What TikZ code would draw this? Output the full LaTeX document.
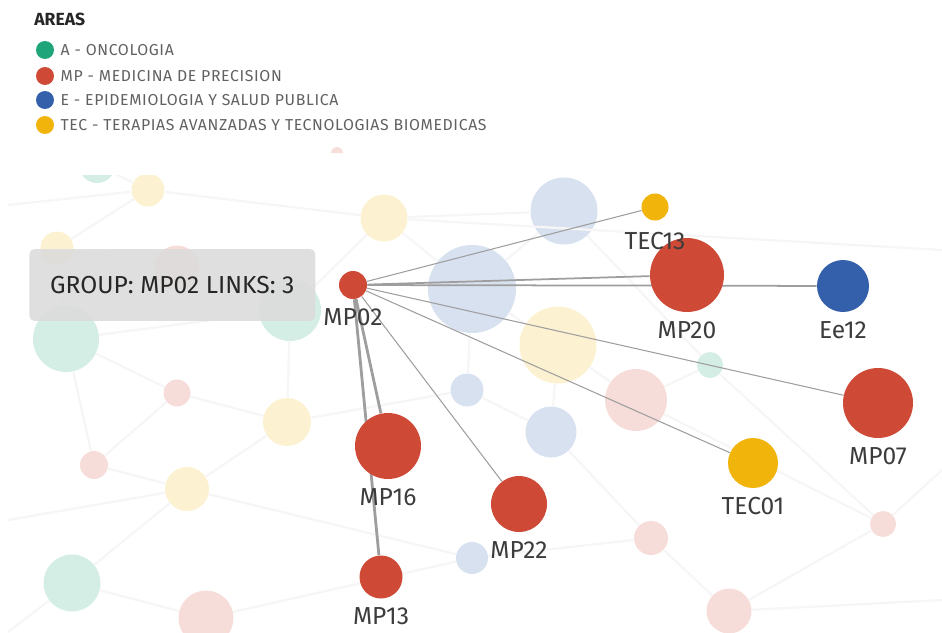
\documentclass[tikz,border=0pt]{standalone}
\usepackage{fontspec}
\setmainfont{Fira Sans}
\usetikzlibrary{positioning}

\definecolor{areaA}{HTML}{1EA67A}
\definecolor{areaMP}{HTML}{CF4A36}
\definecolor{areaE}{HTML}{345FAA}
\definecolor{areaTEC}{HTML}{F0B40A}
\definecolor{txt}{HTML}{3C3C3C}

\pgfdeclarelayer{faded}
\pgfdeclarelayer{links}
\pgfsetlayers{faded,links,main}

\tikzset{
  grp/.style={circle, inner sep=0pt, minimum size=#1*0.02cm},
  fadedot/.style={circle, inner sep=0pt, minimum size=#1*0.02cm},
  lbl/.style={font=\fontsize{14}{16}\selectfont, text=txt, inner sep=0.5pt,
    label distance=0.15cm},
  link/.style={draw=black!38, line width=0.6pt},
  faint/.style={draw=black!3.5, line width=1.3pt},
  legdot/.style={circle, inner sep=0pt, minimum size=0.36cm},
  legtxt/.style={font=\fontsize{9}{11}\selectfont\addfontfeature{LetterSpace=4},
    text=black!62, inner sep=0pt},
  tip/.style={fill=black!14, fill opacity=0.88, text opacity=1, rounded corners=3pt,
    minimum width=5.72cm, minimum height=1.44cm, text=black!85,
    font=\fontsize{14}{16}\selectfont}
}

\begin{document}
\begin{tikzpicture}[x=0.02cm, y=-0.02cm]
\useasboundingbox (0,0) rectangle (942,632);

% legend
\node[font=\bfseries\fontsize{10}{12}\selectfont, text=black!85, anchor=west, inner sep=0pt]
  (areas) at (34,19) {AREAS};
\foreach \n/\c/\y/\t in {A/areaA/50/A - ONCOLOGIA,
    MP/areaMP/76/MP - MEDICINA DE PRECISION,
    E/areaE/100/E - EPIDEMIOLOGIA Y SALUD PUBLICA,
    TEC/areaTEC/125/TEC - TERAPIAS AVANZADAS Y TECNOLOGIAS BIOMEDICAS} {
  \node[legdot, fill=\c] (leg\n) at (45,\y) {};
  \node[legtxt, right=0.12cm of leg\n] (legtxt\n) {\t};
}

% faded network behind the selection
\begin{pgfonlayer}{faded}
  \fill[areaMP!18] (331,153) arc[start angle=180, end angle=0, radius=0.12cm];
  \begin{scope}
    \clip (8,175) rectangle (942,632);
    \foreach \i/\x/\y/\d/\c in {1/97/165/36/areaA, 2/148/190/33/areaTEC,
        3/57/248/33/areaTEC, 4/177/268/45/areaMP, 5/290/310/62/areaA,
        6/66/339/66/areaA, 7/384/218/47/areaTEC, 8/564/211/67/areaE,
        9/472/289/88/areaE, 10/558/345/77/areaTEC, 11/467/390/33/areaE,
        12/551/432/51/areaE, 13/636/400/62/areaMP, 14/710/365/26/areaA,
        15/177/393/27/areaMP, 16/287/422/48/areaTEC, 17/94/465/28/areaMP,
        18/187/489/44/areaTEC, 19/72/583/57/areaA, 20/206/618/55/areaMP,
        21/651/538/34/areaMP, 22/729/611/45/areaMP, 23/883/524/26/areaMP,
        24/472/558/32/areaE} {
      \node[fadedot=\d, fill=\c!19] (f\i) at (\x,\y) {};
    }
    % faint links
    \foreach \a/\b in {1/2, 2/7, 3/4, 4/5, 3/6, 6/5, 5/7, 7/9, 8/9, 9/10,
        10/13, 13/14, 11/12, 12/21, 15/16, 16/18, 17/18, 18/19, 19/20,
        20/24, 24/21, 21/22, 13/23, 16/11, 6/15, 2/3, 15/17, 16/5, 10/12,
        11/9, 14/23, 8/14, 22/23, 18/24, 6/17, 7/8} {
      \draw[faint] (f\a) -- (f\b);
    }
    \draw[faint] (8,205) -- (f2);
    \draw[faint] (f7) -- (942,250);
    \draw[faint] (8,520) -- (f18);
    \draw[faint] (f23) -- (942,470);
    \draw[faint] (f19) -- (8,632);
    \draw[faint] (f22) -- (942,600);
  \end{scope}
\end{pgfonlayer}

% selected group
\node[grp=28, fill=areaMP, label={[lbl]below:MP02}] (MP02) at (353,285) {};
\node[grp=74, fill=areaMP, label={[lbl]below:MP20}] (MP20) at (687,275) {};
\node[grp=27, fill=areaTEC, label={[lbl, label distance=0.2cm]below:TEC13}] (TEC13) at (655,207) {};
\node[grp=52, fill=areaE, label={[lbl]below:Ee12}] (Ee12) at (843,286) {};
\node[grp=70, fill=areaMP, label={[lbl]below:MP07}] (MP07) at (878,403) {};
\node[grp=50, fill=areaTEC, label={[lbl]below:TEC01}] (TEC01) at (753,463) {};
\node[grp=56, fill=areaMP, label={[lbl]below:MP22}] (MP22) at (519,504) {};
\node[grp=66, fill=areaMP, label={[lbl]below:MP16}] (MP16) at (388,446) {};
\node[grp=43, fill=areaMP, label={[lbl]below:MP13}] (MP13) at (381,577) {};

\begin{pgfonlayer}{links}
  \draw[link] (MP02) -- (TEC13);
  \draw[link, line width=1pt] (MP02) -- (MP20);
  \draw[link, line width=1pt] (MP02) -- (Ee12);
  \draw[link] (MP02) -- (MP07);
  \draw[link] (MP02) -- (TEC01);
  \draw[link] (MP02) -- (MP22);
  \draw[link, line width=1.6pt] (MP02) -- (MP16);
  \draw[link, line width=1.6pt] (MP02) -- (MP13);
\end{pgfonlayer}

% tooltip
\node[tip, left=0.46cm of MP02] (tooltip) {GROUP: MP02 LINKS: 3};

\end{tikzpicture}
\end{document}
